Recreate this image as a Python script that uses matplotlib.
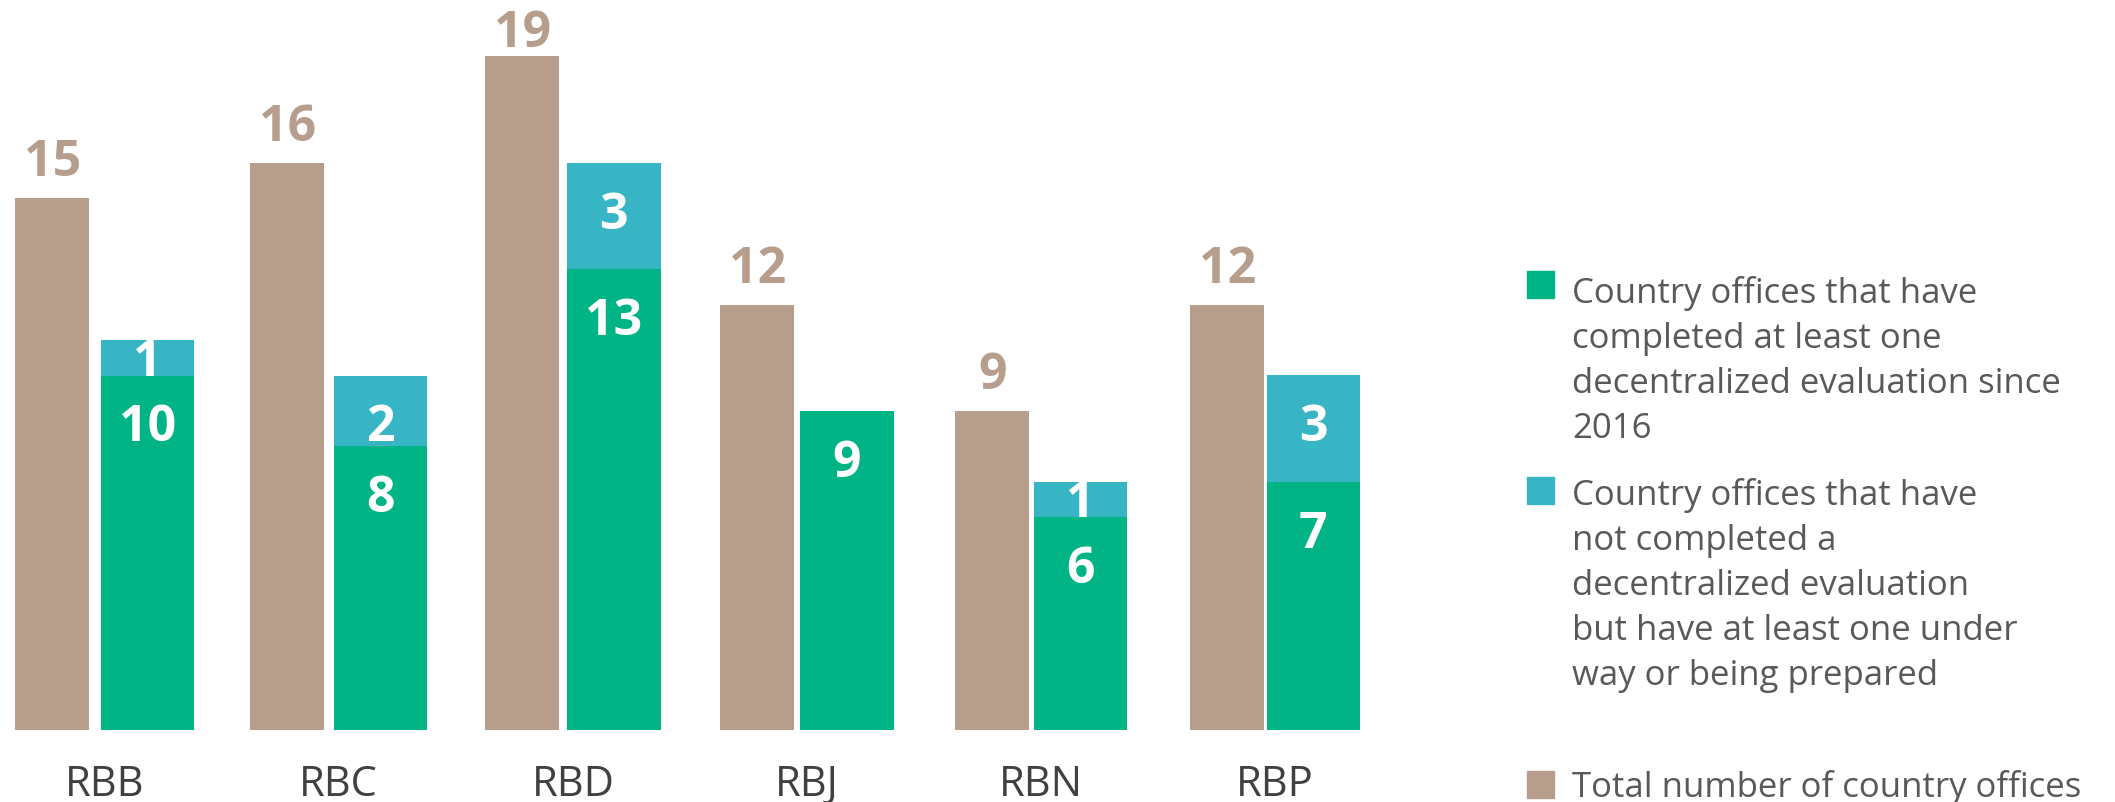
import numpy as np
import matplotlib.pyplot as plt
from matplotlib.patches import Rectangle

plt.rcParams['font.family'] = ['Open Sans', 'DejaVu Sans']

# data
regions = ['RBB', 'RBC', 'RBD', 'RBJ', 'RBN', 'RBP']
total_offices = [15, 16, 19, 12, 9, 12]
completed = [10, 8, 13, 9, 6, 7]
under_way = [1, 2, 3, 0, 1, 3]

legend_labels = [
    ['Country offices that have', 'completed at least one',
     'decentralized evaluation since', '2016'],
    ['Country offices that have', 'not completed a',
     'decentralized evaluation', 'but have at least one under',
     'way or being prepared'],
    ['Total number of country offices'],
]

BROWN = '#B79E8C'
GREEN = '#00B486'
TEAL = '#37B5C5'
GREY = '#595959'
DARK = '#404040'

W, H = 2115, 802
fig = plt.figure(figsize=(W / 100, H / 100), dpi=100)

# axes: baseline at y=730px, 235 px per category, 35.45 px per unit
px_unit = 35.45
base_px = 730
ax_w = 1500
ax = fig.add_axes([0, (H - base_px) / H, ax_w / W, base_px / H])
ax.set_xlim(-52.3 / 235, (ax_w - 52.3) / 235)
ymax = base_px / px_unit
ax.set_ylim(0, ymax)
ax.axis('off')

x = np.arange(len(regions))
brown_x = x * 1.0
green_x = x * 0.9923 + 0.405
bw = 0.315
gw = 0.397

ax.bar(brown_x, total_offices, bw, color=BROWN)
ax.bar(green_x, completed, gw, color=GREEN)
ax.bar(green_x, under_way, gw, bottom=completed, color=TEAL)

num_kw = dict(fontsize=36, fontweight='bold', ha='center', va='baseline')
for xi, v in zip(brown_x, total_offices):
    # labels are pushed down when they would leave the chart area
    y = min(v + 22 / px_unit, ymax - 47 / px_unit)
    ax.text(xi, y, str(v), color=BROWN, **num_kw)

def inside_labels(xs, vals, bottoms):
    for xi, v, b in zip(xs, vals, bottoms):
        if v == 0:
            continue
        top = b + v
        y = max(b, top - 66 / px_unit)
        ax.text(xi, y, str(v), color='white', **num_kw)

inside_labels(green_x, completed, [0] * len(completed))
inside_labels(green_x, under_way, completed)

# category labels
centers = ((brown_x - bw / 2) + (green_x + gw / 2)) / 2
for cx, name in zip(centers, regions):
    ax.text(cx, -66 / px_unit, name, color=DARK, fontsize=30,
            ha='center', va='baseline', clip_on=False)

# legend
leg_colors = [GREEN, TEAL, BROWN]
sq_tops = [271, 477, 771]
first_base = [303, 505, 797]
line_step = 45
for lines, c, st, fb in zip(legend_labels, leg_colors, sq_tops, first_base):
    fig.patches.append(Rectangle((1527 / W, 1 - (st + 27) / H), 27 / W, 27 / H,
                                 transform=fig.transFigure, color=c))
    for k, line in enumerate(lines):
        fig.text(1572.5 / W, 1 - (fb + k * line_step) / H, line,
                 color=GREY, fontsize=25, ha='left', va='baseline')

fig.savefig('out.png', dpi=100)
